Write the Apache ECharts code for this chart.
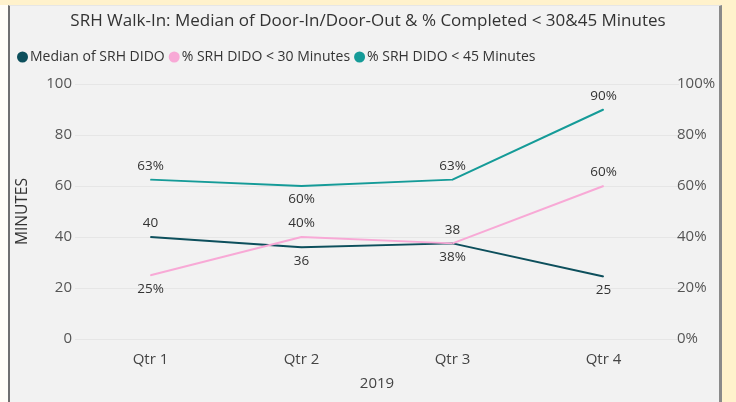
<!DOCTYPE html>
<html>
<head>
<meta charset="utf-8">
<script src="https://cdn.jsdelivr.net/npm/echarts@6/dist/echarts.min.js"></script>
<style>
  body { margin: 0; background: #fff2cc; }
  #panel { position: absolute; left: 8px; top: 5px; width: 714px; height: 397px; background: #f2f2f2;
           border-left: 2px solid #6f6f6f; border-right: 3px solid #8a8a8a; border-top: 1px solid #e6e6e6; box-sizing: border-box; }
  #edge { position: absolute; left: 0; top: 5px; width: 8px; height: 397px; background: #fffdf7; }
  #main { position: absolute; left: 0; top: 0; width: 736px; height: 402px; }
</style>
</head>
<body>
<div id="edge"></div>
<div id="panel"></div>
<div id="main"></div>
<script>
const quarters = ["Qtr 1", "Qtr 2", "Qtr 3", "Qtr 4"];
const medianDido = [40, 36, 37.5, 24.5];
const pctUnder30 = [25, 40, 37.5, 60];
const pctUnder45 = [62.5, 60, 62.5, 90];

// label placement per point (above / below the line)
const medianPos = ["top", "bottom", "top", "bottom"];
const under30Pos = ["bottom", "top", "bottom", "top"];
const under45Pos = ["top", "bottom", "top", "top"];

const chart = echarts.init(document.getElementById("main"));

function withLabels(values, positions) {
  return values.map((v, i) => ({ value: v, label: { position: positions[i] } }));
}

const labelStyle = {
  show: true,
  distance: 6,
  color: "#333",
  fontSize: 13.5,
  fontFamily: "Open Sans",
};

const option = {
  backgroundColor: "transparent",
  title: {
    text: "SRH Walk-In: Median of Door-In/Door-Out & % Completed < 30&45 Minutes",
    left: "center",
    top: 8,
    textStyle: { fontSize: 17, fontWeight: "normal", color: "#333", fontFamily: "Open Sans" },
  },
  legend: {
    left: 12,
    top: 45,
    icon: "circle",
    itemWidth: 11,
    itemHeight: 11,
    itemGap: 4,
    textStyle: { fontSize: 14, color: "#333", fontFamily: "Open Sans", padding: [0, 0, 0, -3] },
  },
  grid: {
    left: 75,
    right: 57,
    top: 84,
    bottom: 63,
  },
  xAxis: {
    type: "category",
    data: quarters,
    name: "2019",
    nameLocation: "middle",
    nameGap: 37,
    nameTextStyle: { fontSize: 15, color: "#444", fontFamily: "Open Sans" },
    axisLine: { show: false },
    axisTick: { show: false },
    axisLabel: { fontSize: 15, color: "#444", fontFamily: "Open Sans", margin: 13 },
  },
  yAxis: [
    {
      type: "value",
      min: 0,
      max: 100,
      interval: 20,
      name: "MINUTES",
      nameLocation: "middle",
      nameGap: 44,
      nameTextStyle: { fontSize: 15.5, color: "#333", fontFamily: "Open Sans" },
      axisLabel: { fontSize: 15, color: "#555", fontFamily: "Open Sans", margin: 3 },
      splitLine: { lineStyle: { color: "#e6e6e6" } },
    },
    {
      type: "value",
      min: 0,
      max: 100,
      interval: 20,
      axisLabel: { formatter: "{value}%", fontSize: 15, color: "#555", fontFamily: "Open Sans", margin: -2 },
      splitLine: { show: false },
    },
  ],
  series: [
    {
      name: "Median of SRH DIDO",
      type: "line",
      data: withLabels(medianDido, medianPos),
      symbol: "circle",
      symbolSize: 1,
      color: "#0d4f5c",
      lineStyle: { width: 2 },
      label: { ...labelStyle, formatter: (p) => Math.round(p.value) },
    },
    {
      name: "% SRH DIDO < 30 Minutes",
      type: "line",
      yAxisIndex: 1,
      data: withLabels(pctUnder30, under30Pos),
      symbol: "circle",
      symbolSize: 1,
      color: "#f8a9d6",
      lineStyle: { width: 2 },
      label: { ...labelStyle, formatter: (p) => Math.round(p.value) + "%" },
    },
    {
      name: "% SRH DIDO < 45 Minutes",
      type: "line",
      yAxisIndex: 1,
      data: withLabels(pctUnder45, under45Pos),
      symbol: "circle",
      symbolSize: 1,
      color: "#159b98",
      lineStyle: { width: 2 },
      label: { ...labelStyle, formatter: (p) => Math.round(p.value) + "%" },
    },
  ],
};

chart.setOption(option);
</script>
</body>
</html>
